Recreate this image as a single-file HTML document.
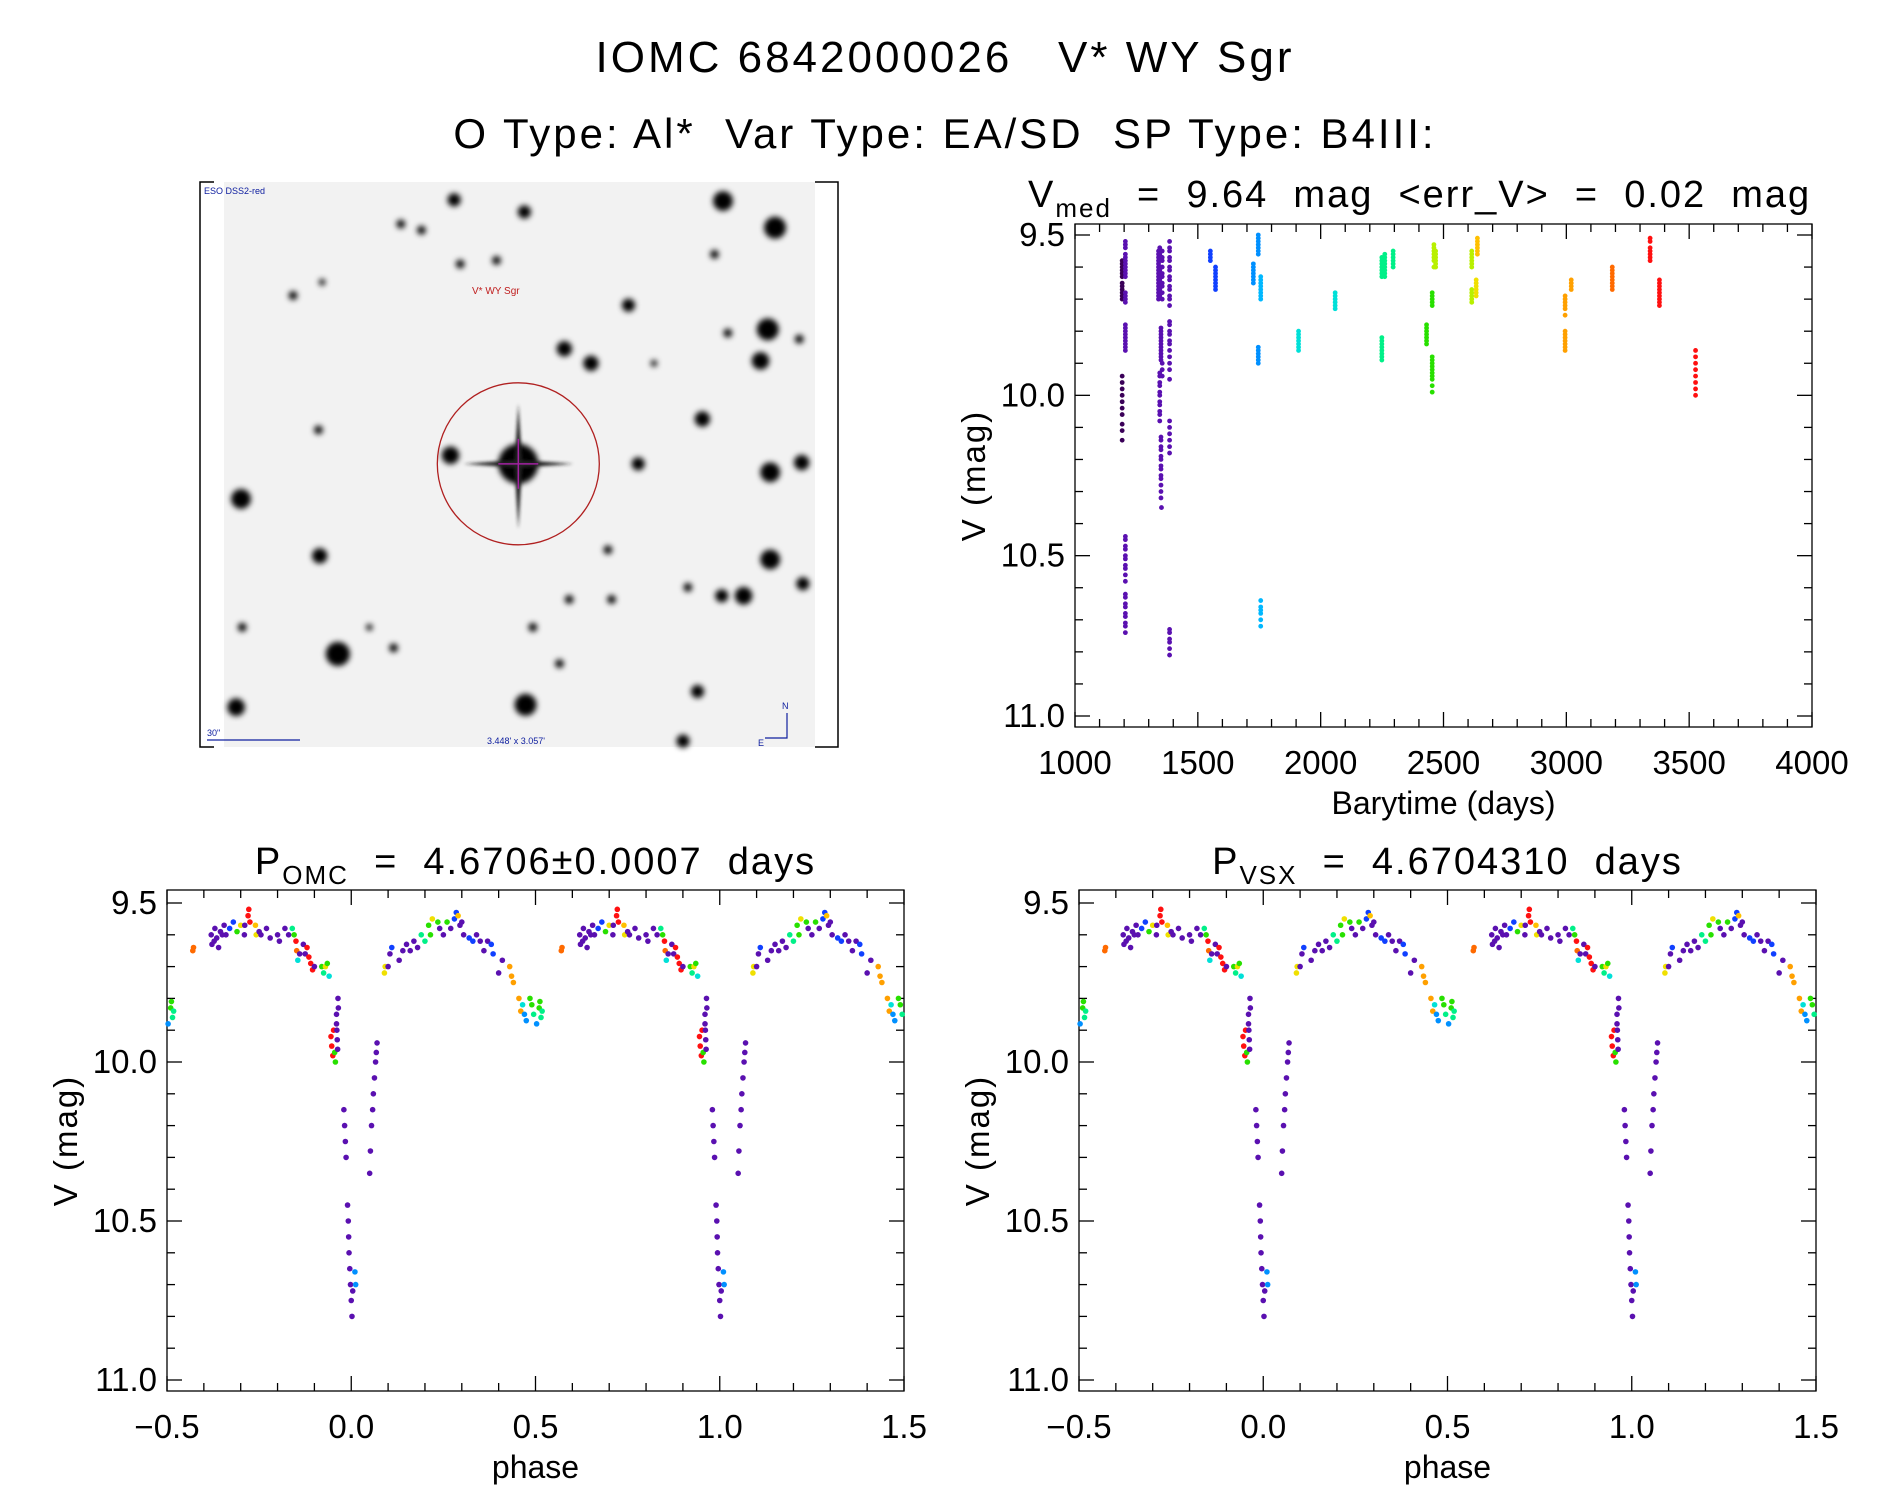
<!DOCTYPE html>
<html><head><meta charset="utf-8"><style>
html,body{margin:0;padding:0;background:#fff}
svg{display:block}
text{font-family:"Liberation Sans",sans-serif;fill:#000;white-space:pre}
</style></head><body>
<svg id="fig" width="1889" height="1494" viewBox="0 0 1889 1494">
<defs>
<filter id="blur2" x="-1" y="-1" width="3" height="3"><feGaussianBlur stdDeviation="3"/></filter>
<filter id="blur1" x="-1" y="-1" width="3" height="3"><feGaussianBlur stdDeviation="1.5"/></filter>
</defs>
<text x="945" y="72" font-size="44" text-anchor="middle" style="letter-spacing:3px" xml:space="preserve">IOMC 6842000026   V* WY Sgr</text>
<text x="945" y="148" font-size="42" text-anchor="middle" style="letter-spacing:3px" xml:space="preserve">O Type: Al*  Var Type: EA/SD  SP Type: B4III:</text>
<g id="img"></g>
<g id="ts"></g>
<g id="ph1"></g>
<g id="ph2"></g>
</svg>
<script>
// ---- colour palette (time-ordered) ----
const palette = {D:'#3a0058',P:'#5a10b0',B:'#1040ff',LB:'#0090ff',SB:'#00b8ff',C:'#00e0d8',T:'#00f088',G:'#28e000',YG:'#b8f000',Y:'#f0e000',Y2:'#ffc000',O:'#ffa000',OR:'#ff6a00',R:'#ff1010'};

// ---- time series data ----
const tsTimes  = [1192,1192,1192,1205,1205,1205,1205,1205,1340,1345,1350,1355,1345,1350,1352,1355,1385,1385,1385,1385,1551,1572,1726,1746,1746,1756,1756,1910,2059,2249,2249,2261,2295,2431,2454,2454,2461,2468,2615,2615,2633,2638,2995,2995,2995,3020,3187,3341,3379,3526];
const tsColors = ['D','D','D','P','P','P','P','P','P','P','P','P','P','P','P','P','P','P','P','P','B','B','LB','LB','LB','SB','SB','C','C','T','T','T','T','G','G','G','YG','YG','YG','YG','Y','Y2','O','O','O','O','OR','R','R','R'];
const tsMags = [
 [9.58,9.59,9.6,9.61,9.62,9.63],
 [9.65,9.66,9.67,9.68,9.69,9.7],
 [9.94,9.96,9.98,10.0,10.02,10.04,10.06,10.09,10.11,10.14],
 [9.52,9.53,9.54,9.56,9.57,9.58,9.59,9.6,9.61,9.62,9.63],
 [9.68,9.69,9.7,9.71],
 [9.78,9.79,9.8,9.81,9.82,9.83,9.84,9.85,9.86],
 [10.44,10.45,10.47,10.48,10.5,10.51,10.53,10.54,10.56,10.58],
 [10.62,10.63,10.65,10.66,10.68,10.69,10.71,10.72,10.74],
 [9.55,9.56,9.57,9.58,9.59,9.6,9.61,9.62,9.63,9.64,9.65,9.66,9.67,9.68,9.69,9.7],
 [9.54,9.56,9.57,9.58,9.6,9.61,9.62,9.63,9.64,9.66,9.67,9.69],
 [9.79,9.8,9.81,9.82,9.83,9.84,9.85,9.86,9.87,9.88,9.89],
 [9.55,9.57,9.58,9.6,9.62,9.63,9.65,9.66,9.68,9.7],
 [9.93,9.94,9.96,9.97,9.99,10.0,10.02,10.03,10.05,10.06,10.08],
 [10.13,10.14,10.16,10.17,10.19,10.2,10.22,10.23,10.25,10.26,10.28,10.3,10.32],
 [10.35],
 [9.9,9.92,9.94],
 [9.52,9.54,9.55,9.57,9.58,9.6,9.61,9.63,9.64,9.66,9.67,9.69,9.7,9.72],
 [9.77,9.78,9.8,9.81,9.83,9.84,9.86,9.88,9.9,9.92,9.95],
 [10.08,10.1,10.12,10.14,10.16,10.18],
 [10.73,10.74,10.76,10.77,10.79,10.81],
 [9.55,9.56,9.57,9.58],
 [9.6,9.61,9.62,9.63,9.64,9.65,9.66,9.67],
 [9.59,9.6,9.61,9.62,9.63,9.64,9.65],
 [9.5,9.51,9.52,9.53,9.54,9.55,9.56],
 [9.85,9.86,9.87,9.88,9.89,9.9],
 [9.63,9.64,9.65,9.66,9.67,9.68,9.69,9.7],
 [10.64,10.66,10.67,10.68,10.7,10.72],
 [9.8,9.81,9.82,9.83,9.84,9.85,9.86],
 [9.68,9.69,9.7,9.71,9.72,9.73],
 [9.57,9.58,9.59,9.6,9.61,9.62,9.63],
 [9.82,9.83,9.84,9.85,9.86,9.87,9.88,9.89],
 [9.56,9.57,9.58,9.59,9.6,9.61,9.62,9.63],
 [9.55,9.56,9.57,9.58,9.59,9.6],
 [9.78,9.79,9.8,9.81,9.82,9.83,9.84],
 [9.68,9.69,9.7,9.71,9.72],
 [9.88,9.89,9.9,9.91,9.92,9.93,9.94,9.95,9.97,9.99],
 [9.53,9.54,9.55,9.56,9.57,9.58,9.6],
 [9.55,9.56,9.57,9.58,9.59,9.6],
 [9.55,9.56,9.57,9.58,9.59,9.6],
 [9.67,9.68,9.69,9.7,9.71],
 [9.64,9.65,9.66,9.67,9.68,9.69],
 [9.51,9.52,9.53,9.54,9.55,9.56],
 [9.69,9.7,9.71,9.72,9.73],
 [9.75],
 [9.8,9.81,9.82,9.83,9.84,9.85,9.86],
 [9.64,9.65,9.66,9.67],
 [9.6,9.61,9.62,9.63,9.64,9.65,9.66,9.67],
 [9.51,9.52,9.54,9.55,9.56,9.57,9.58],
 [9.64,9.65,9.66,9.67,9.68,9.69,9.7,9.71,9.72],
 [9.86,9.88,9.9,9.92,9.94,9.96,9.98,10.0]
];
const tsXTicks = [1000,1500,2000,2500,3000,3500,4000];
const magTicks = [9.5,10.0,10.5,11.0];

// ---- phased data (base phase -0.5..0.5) ----
const phPhase = [-0.497,-0.49,-0.488,-0.485,-0.482,-0.43,-0.428,-0.38,-0.378,-0.372,-0.37,-0.365,-0.36,-0.355,-0.35,-0.345,-0.34,-0.33,-0.32,-0.31,-0.3,-0.29,-0.289,-0.28,-0.278,-0.275,-0.26,-0.258,-0.25,-0.245,-0.23,-0.22,-0.2,-0.195,-0.18,-0.17,-0.16,-0.155,-0.15,-0.148,-0.145,-0.14,-0.13,-0.125,-0.12,-0.115,-0.11,-0.105,-0.1,-0.08,-0.075,-0.07,-0.065,-0.06,-0.055,-0.053,-0.05,-0.048,-0.045,-0.043,-0.04,-0.04,-0.039,-0.038,-0.037,-0.036,-0.035,-0.02,-0.018,-0.016,-0.014,-0.01,-0.008,-0.007,-0.006,-0.004,-0.002,0,0.002,0.004,0.01,0.012,0.05,0.052,0.055,0.058,0.06,0.063,0.066,0.068,0.07,0.09,0.092,0.1,0.105,0.11,0.13,0.14,0.15,0.16,0.17,0.18,0.19,0.2,0.21,0.215,0.22,0.235,0.24,0.25,0.26,0.27,0.28,0.285,0.29,0.295,0.3,0.305,0.32,0.33,0.34,0.35,0.36,0.37,0.38,0.385,0.4,0.41,0.43,0.435,0.44,0.455,0.46,0.465,0.47,0.475,0.485,0.49,0.495];
const phMag = [9.88,9.83,9.81,9.86,9.84,9.65,9.64,9.6,9.63,9.62,9.58,9.61,9.64,9.59,9.6,9.57,9.6,9.58,9.56,9.59,9.57,9.6,9.57,9.54,9.52,9.56,9.57,9.6,9.59,9.6,9.58,9.61,9.6,9.62,9.58,9.6,9.58,9.6,9.62,9.65,9.68,9.66,9.63,9.66,9.64,9.67,9.69,9.71,9.7,9.7,9.72,9.7,9.69,9.73,9.92,9.95,9.98,9.9,9.97,10.0,9.85,9.88,9.9,9.93,9.96,9.8,9.83,10.15,10.2,10.25,10.3,10.45,10.5,10.55,10.6,10.65,10.7,10.75,10.8,10.72,10.66,10.7,10.35,10.28,10.2,10.15,10.1,10.05,10.0,9.97,9.94,9.72,9.7,9.7,9.66,9.64,9.68,9.65,9.63,9.65,9.62,9.64,9.6,9.62,9.57,9.6,9.55,9.56,9.58,9.6,9.56,9.58,9.55,9.53,9.54,9.57,9.56,9.6,9.61,9.62,9.6,9.62,9.65,9.62,9.63,9.66,9.72,9.68,9.7,9.73,9.75,9.8,9.84,9.82,9.85,9.87,9.8,9.82,9.85];
const phColor = ['LB','G','G','T','T','OR','OR','P','P','P','P','P','P','P','P','P','P','B','B','G','Y','P','P','R','R','R','Y2','Y','P','P','P','P','P','P','P','P','T','G','R','OR','C','P','P','P','R','R','R','R','P','G','T','Y','G','C','R','R','R','R','G','G','P','P','P','P','P','P','P','P','P','P','P','P','P','P','P','P','P','P','P','P','LB','LB','P','P','P','P','P','P','P','P','P','Y','Y','P','P','B','P','P','P','P','P','P','T','T','G','G','Y','G','P','P','G','P','B','B','Y2','P','P','P','B','B','P','P','P','P','B','B','P','P','O','O','O','O','O','C','LB','LB','G','G','T'];
const phXTicks = [-0.5,0.0,0.5,1.0,1.5];

const NS='http://www.w3.org/2000/svg';
function el(tag,attrs,parent){const e=document.createElementNS(NS,tag);for(const k in attrs)e.setAttribute(k,attrs[k]);parent.appendChild(e);return e;}

function drawAxes(g,L,R,T,B,xs,ys,xMin,xMax,xMinor,xTicks,xFmt,xTitle){
  const fr=el('rect',{x:L,y:T,width:R-L,height:B-T,fill:'none',stroke:'#000','stroke-width':1.3},g);
  
  
  const nx=Math.round((xMax-xMin)/xMinor);
  for(let i=0;i<=nx;i++){
    const v=xMin+i*xMinor, X=xs(v);
    const major=xTicks.some(t=>Math.abs(t-v)<1e-6);
    const len=major?15:8;
    el('line',{x1:X,y1:B,x2:X,y2:B-len,stroke:'#000','stroke-width':1.3},g);
    el('line',{x1:X,y1:T,x2:X,y2:T+len,stroke:'#000','stroke-width':1.3},g);
  }
  for(let i=0;i<=15;i++){
    const v=9.5+i*0.1, Y=ys(v);
    const major=i%5===0, len=major?15:8;
    el('line',{x1:L,y1:Y,x2:L+len,y2:Y,stroke:'#000','stroke-width':1.3},g);
    el('line',{x1:R,y1:Y,x2:R-len,y2:Y,stroke:'#000','stroke-width':1.3},g);
  }
  xTicks.forEach(t=>{
    const tx=el('text',{x:xs(t),y:B+47,'font-size':33,'text-anchor':'middle'},g);
    tx.textContent=xFmt(t);
    
    
  });
  magTicks.forEach(t=>{
    const ty=el('text',{x:L-10,y:ys(t)+11,'font-size':33,'text-anchor':'end'},g);
    ty.textContent=t.toFixed(1);
    
    
  });
  const xt=el('text',{x:(L+R)/2,y:B+87,'font-size':32,'text-anchor':'middle'},g);
  xt.textContent=xTitle;
  
  
  const cy=(T+B)/2;
  const yt=el('text',{x:L-90,y:cy,'font-size':33,'text-anchor':'middle',transform:`rotate(-90 ${L-90} ${cy})`,style:'letter-spacing:2px'},g);
  yt.textContent='V (mag)';
  
  
}

// ---- time-series panel ----
(function(){
  const g=document.getElementById('ts');
  const L=1075,R=1812,T=224,B=727,Y0=235,Y1=716;
  const xs=v=>L+(v-1000)/3000*(R-L);
  const ys=m=>Y0+(m-9.5)/1.5*(Y1-Y0);
  const tt=el('text',{x:1028,y:207,'font-size':38,style:'letter-spacing:2px'},g);
  tt.innerHTML='V<tspan font-size="26" dy="10">med</tspan><tspan dy="-10">  =  9.64  mag  &lt;err_V&gt;  =  0.02  mag</tspan>';
  
  
  drawAxes(g,L,R,T,B,xs,ys,1000,4000,100,tsXTicks,v=>String(v),'Barytime (days)');
  tsTimes.forEach((t,i)=>{
    tsMags[i].forEach(m=>{
      const c=el('circle',{cx:xs(t),cy:ys(m),r:2.4,fill:palette[tsColors[i]]},g);
      
      
    });
  });
})();

// ---- phase panels ----
function phasePanel(id,L,R,title,sub,rest){
  const g=document.getElementById(id);
  const T=890,B=1391,Y0=903,Y1=1380;
  const xs=v=>L+(v+0.5)/2*(R-L);
  const ys=m=>Y0+(m-9.5)/1.5*(Y1-Y0);
  const tt=el('text',{x:(L+R)/2,y:874,'font-size':38,'text-anchor':'middle',style:'letter-spacing:2px'},g);
  tt.innerHTML=title+'<tspan font-size="26" dy="10">'+sub+'</tspan><tspan dy="-10">'+rest+'</tspan>';
  
  
  drawAxes(g,L,R,T,B,xs,ys,-0.5,1.5,0.1,phXTicks,v=>(v<0?'\u2212':'')+Math.abs(v).toFixed(1),'phase');
  [0,1].forEach(k=>{
    phPhase.forEach((p,i)=>{
      const c=el('circle',{cx:xs(p+k),cy:ys(phMag[i]),r:2.8,fill:palette[phColor[i]]},g);
      
      
    });
  });
}
phasePanel('ph1',167,904,'P','OMC','  =  4.6706\u00b10.0007  days');
phasePanel('ph2',1079,1816,'P','VSX','  =  4.6704310  days');

// ---- sky image ----
(function(){
  const g=document.getElementById('img');
  const s=1.211;
  el('rect',{x:224,y:182,width:591,height:565,fill:'#f2f2f2'},g);
  const fr=el('path',{d:'M214 182 H200 V747 H214 M815 182 H838 V747 H815',fill:'none',stroke:'#000','stroke-width':1.5},g);
  
  
  const stars=[[597,166,9],[640,188,10],[433,175,6],[375,165,6],[634,272,10],[628,298,8],[466,288,7],[488,300,7],[519,252,6],[580,346,7],[372,376,8],[199,412,9],[264,459,7],[636,390,9],[662,382,7],[636,462,9],[614,492,8],[596,492,6],[663,482,6],[279,540,11],[434,582,10],[195,584,8],[576,571,6],[564,612,6],[331,185,4],[527,383,6],[263,355,4],[660,280,4],[348,190,4],[410,215,4],[380,218,4],[242,244,4],[266,233,3],[590,210,4],[601,275,4],[540,300,3],[325,535,4],[502,454,4],[470,495,4],[505,495,4],[568,485,4],[440,518,4],[462,548,4],[200,518,4],[305,518,3]];
  stars.forEach(st=>{
    const c=el('circle',{cx:st[0]*s,cy:st[1]*s,r:st[2]*1.1,fill:'#000',filter:'url(#blur2)'},g);
    
    
  });
  const cx=428*s, cy=383*s;
  el('circle',{cx:cx,cy:cy,r:20,fill:'#000',filter:'url(#blur2)'},g);
  el('path',{d:`M${cx-55} ${cy} L${cx} ${cy-4} L${cx+55} ${cy} L${cx} ${cy+4} Z M${cx} ${cy-60} L${cx+4} ${cy} L${cx} ${cy+65} L${cx-4} ${cy} Z`,fill:'#222',filter:'url(#blur1)'},g);
  el('line',{x1:cx-20,y1:cy,x2:cx+20,y2:cy,stroke:'#a020a0','stroke-width':1.5},g);
  el('line',{x1:cx,y1:cy-25,x2:cx,y2:cy+25,stroke:'#a020a0','stroke-width':1.5},g);
  const ring=el('circle',{cx:cx,cy:cy,r:81,fill:'none',stroke:'#b02020','stroke-width':1.3},g);
  
  
  const t1=el('text',{x:204,y:194,'font-size':9,style:'fill:#1020a0'},g);t1.textContent='ESO DSS2-red';
  
  
  const t2=el('text',{x:472,y:294,'font-size':10,style:'fill:#c02020'},g);t2.textContent='V* WY Sgr';
  
  
  const t3=el('text',{x:487,y:744,'font-size':9,style:'fill:#1020a0'},g);t3.textContent="3.448' x 3.057'";
  
  
  const t4=el('text',{x:207,y:736,'font-size':9,style:'fill:#1020a0'},g);t4.textContent='30"';
  
  
  el('line',{x1:207,y1:740,x2:300,y2:740,stroke:'#1020a0','stroke-width':1.2},g);
  el('path',{d:'M787 713 V738 H765',fill:'none',stroke:'#1020a0','stroke-width':1.2},g);
  const tn=el('text',{x:782,y:709,'font-size':9,style:'fill:#1020a0'},g);tn.textContent='N';
  
  
  const te=el('text',{x:758,y:746,'font-size':9,style:'fill:#1020a0'},g);te.textContent='E';
  
  
})();
</script>
</body></html>
